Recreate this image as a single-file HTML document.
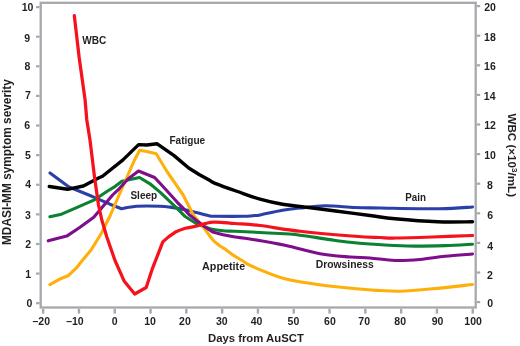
<!DOCTYPE html>
<html><head><meta charset="utf-8"><style>
html,body{margin:0;padding:0;background:#fff;}
svg{display:block;will-change:transform;}
text{font-family:"Liberation Sans",sans-serif;font-weight:bold;fill:#231f20;}
</style></head><body>
<svg width="520" height="346" viewBox="0 0 520 346">
<rect x="0" y="0" width="520" height="346" fill="#fff"/>

<rect x="40.7" y="2.8" width="435.0" height="304.7" fill="none" stroke="#a5a8ad" stroke-width="2.3"/>
<line x1="36" y1="303.20" x2="39.6" y2="303.20" stroke="#a5a8ad" stroke-width="2.2"/>
<text x="29.47" y="307.33" font-size="10.5" text-anchor="middle">0</text>
<line x1="36" y1="273.59" x2="39.6" y2="273.59" stroke="#a5a8ad" stroke-width="2.2"/>
<text x="28.20" y="277.81" font-size="10.5" text-anchor="middle">1</text>
<line x1="36" y1="243.98" x2="39.6" y2="243.98" stroke="#a5a8ad" stroke-width="2.2"/>
<text x="28.08" y="247.96" font-size="10.5" text-anchor="middle">2</text>
<line x1="36" y1="214.37" x2="39.6" y2="214.37" stroke="#a5a8ad" stroke-width="2.2"/>
<text x="28.03" y="219.02" font-size="10.5" text-anchor="middle">3</text>
<line x1="36" y1="184.76" x2="39.6" y2="184.76" stroke="#a5a8ad" stroke-width="2.2"/>
<text x="28.06" y="188.19" font-size="10.5" text-anchor="middle">4</text>
<line x1="36" y1="155.15" x2="39.6" y2="155.15" stroke="#a5a8ad" stroke-width="2.2"/>
<text x="27.89" y="158.55" font-size="10.5" text-anchor="middle">5</text>
<line x1="36" y1="125.54" x2="39.6" y2="125.54" stroke="#a5a8ad" stroke-width="2.2"/>
<text x="27.12" y="128.82" font-size="10.5" text-anchor="middle">6</text>
<line x1="36" y1="95.93" x2="39.6" y2="95.93" stroke="#a5a8ad" stroke-width="2.2"/>
<text x="27.87" y="99.18" font-size="10.5" text-anchor="middle">7</text>
<line x1="36" y1="66.32" x2="39.6" y2="66.32" stroke="#a5a8ad" stroke-width="2.2"/>
<text x="27.33" y="70.23" font-size="10.5" text-anchor="middle">8</text>
<line x1="36" y1="36.71" x2="39.6" y2="36.71" stroke="#a5a8ad" stroke-width="2.2"/>
<text x="27.14" y="41.54" font-size="10.5" text-anchor="middle">9</text>
<line x1="36" y1="7.10" x2="39.6" y2="7.10" stroke="#a5a8ad" stroke-width="2.2"/>
<text x="27.49" y="10.69" font-size="10.5" text-anchor="middle">10</text>
<line x1="476.8" y1="302.10" x2="480.2" y2="302.10" stroke="#a5a8ad" stroke-width="2.2"/>
<text x="490.21" y="307.07" font-size="10.5" text-anchor="middle">0</text>
<line x1="476.8" y1="272.50" x2="480.2" y2="272.50" stroke="#a5a8ad" stroke-width="2.2"/>
<text x="490.03" y="278.59" font-size="10.5" text-anchor="middle">2</text>
<line x1="476.8" y1="242.90" x2="480.2" y2="242.90" stroke="#a5a8ad" stroke-width="2.2"/>
<text x="490.08" y="250.18" font-size="10.5" text-anchor="middle">4</text>
<line x1="476.8" y1="213.30" x2="480.2" y2="213.30" stroke="#a5a8ad" stroke-width="2.2"/>
<text x="490.17" y="219.46" font-size="10.5" text-anchor="middle">6</text>
<line x1="476.8" y1="183.70" x2="480.2" y2="183.70" stroke="#a5a8ad" stroke-width="2.2"/>
<text x="490.00" y="188.79" font-size="10.5" text-anchor="middle">8</text>
<line x1="476.8" y1="154.10" x2="480.2" y2="154.10" stroke="#a5a8ad" stroke-width="2.2"/>
<text x="489.98" y="159.25" font-size="10.5" text-anchor="middle">10</text>
<line x1="476.8" y1="124.50" x2="480.2" y2="124.50" stroke="#a5a8ad" stroke-width="2.2"/>
<text x="489.99" y="129.46" font-size="10.5" text-anchor="middle">12</text>
<line x1="476.8" y1="94.90" x2="480.2" y2="94.90" stroke="#a5a8ad" stroke-width="2.2"/>
<text x="489.71" y="99.75" font-size="10.5" text-anchor="middle">14</text>
<line x1="476.8" y1="65.30" x2="480.2" y2="65.30" stroke="#a5a8ad" stroke-width="2.2"/>
<text x="489.96" y="69.87" font-size="10.5" text-anchor="middle">16</text>
<line x1="476.8" y1="35.70" x2="480.2" y2="35.70" stroke="#a5a8ad" stroke-width="2.2"/>
<text x="489.93" y="40.75" font-size="10.5" text-anchor="middle">18</text>
<line x1="476.8" y1="6.10" x2="480.2" y2="6.10" stroke="#a5a8ad" stroke-width="2.2"/>
<text x="490.08" y="11.28" font-size="10.5" text-anchor="middle">20</text>
<line x1="43.15" y1="308.8" x2="43.15" y2="313.6" stroke="#a5a8ad" stroke-width="2.4"/>
<text x="41.27" y="324.83" font-size="10.5" text-anchor="middle">–20</text>
<line x1="78.95" y1="308.8" x2="78.95" y2="313.6" stroke="#a5a8ad" stroke-width="2.4"/>
<text x="74.96" y="324.82" font-size="10.5" text-anchor="middle">–10</text>
<line x1="114.75" y1="308.8" x2="114.75" y2="313.6" stroke="#a5a8ad" stroke-width="2.4"/>
<text x="114.65" y="324.89" font-size="10.5" text-anchor="middle">0</text>
<line x1="150.55" y1="308.8" x2="150.55" y2="313.6" stroke="#a5a8ad" stroke-width="2.4"/>
<text x="150.11" y="324.87" font-size="10.5" text-anchor="middle">10</text>
<line x1="186.35" y1="308.8" x2="186.35" y2="313.6" stroke="#a5a8ad" stroke-width="2.4"/>
<text x="184.96" y="324.83" font-size="10.5" text-anchor="middle">20</text>
<line x1="222.15" y1="308.8" x2="222.15" y2="313.6" stroke="#a5a8ad" stroke-width="2.4"/>
<text x="221.76" y="324.85" font-size="10.5" text-anchor="middle">30</text>
<line x1="257.95" y1="308.8" x2="257.95" y2="313.6" stroke="#a5a8ad" stroke-width="2.4"/>
<text x="256.56" y="324.95" font-size="10.5" text-anchor="middle">40</text>
<line x1="293.75" y1="308.8" x2="293.75" y2="313.6" stroke="#a5a8ad" stroke-width="2.4"/>
<text x="293.40" y="324.95" font-size="10.5" text-anchor="middle">50</text>
<line x1="329.55" y1="308.8" x2="329.55" y2="313.6" stroke="#a5a8ad" stroke-width="2.4"/>
<text x="329.92" y="324.88" font-size="10.5" text-anchor="middle">60</text>
<line x1="365.35" y1="308.8" x2="365.35" y2="313.6" stroke="#a5a8ad" stroke-width="2.4"/>
<text x="364.18" y="324.94" font-size="10.5" text-anchor="middle">70</text>
<line x1="401.15" y1="308.8" x2="401.15" y2="313.6" stroke="#a5a8ad" stroke-width="2.4"/>
<text x="400.21" y="324.84" font-size="10.5" text-anchor="middle">80</text>
<line x1="436.95" y1="308.8" x2="436.95" y2="313.6" stroke="#a5a8ad" stroke-width="2.4"/>
<text x="437.48" y="324.91" font-size="10.5" text-anchor="middle">90</text>
<line x1="472.75" y1="308.8" x2="472.75" y2="313.6" stroke="#a5a8ad" stroke-width="2.4"/>
<text x="473.13" y="324.90" font-size="10.5" text-anchor="middle">100</text>
<text x="208" y="341.5" font-size="11" textLength="95.8" lengthAdjust="spacingAndGlyphs">Days from AuSCT</text>
<text transform="translate(10.8,245) rotate(-90)" x="0" y="0" font-size="11.9" textLength="165.9" lengthAdjust="spacingAndGlyphs">MDASI-MM symptom severity</text>
<text transform="translate(508.4,113.4) rotate(90)" x="0" y="0" font-size="11.7" textLength="83.7" lengthAdjust="spacingAndGlyphs">WBC (×10<tspan font-size="8" dy="-4">3</tspan><tspan dy="4">/mL)</tspan></text>
<path d="M50.00,173.00 L69.00,187.00 L90.00,195.50 L94.90,197.60 L110.00,204.20 L121.50,208.80 L127.30,207.50 L136.50,206.20 C141.88,205.98 154.02,206.05 159.60,206.20 C165.18,206.35 165.82,206.52 170.00,207.10 C174.18,207.68 180.33,208.82 184.70,209.70 C189.07,210.58 191.98,211.37 196.20,212.40 C200.42,213.43 206.87,215.26 210.00,215.90 C213.13,216.54 209.58,216.18 215.00,216.25 C220.42,216.32 235.83,216.43 242.50,216.30 C249.17,216.18 252.08,215.73 255.00,215.50 C257.92,215.27 255.42,215.78 260.00,214.90 C264.58,214.02 275.83,211.35 282.50,210.20 C289.17,209.05 292.92,208.73 300.00,208.00 C307.08,207.27 315.83,205.88 325.00,205.80 C334.17,205.72 345.83,207.13 355.00,207.50 C364.17,207.87 365.83,207.79 380.00,208.00 C394.17,208.21 424.58,208.92 440.00,208.75 C455.42,208.58 467.08,207.29 472.50,207.00" fill="none" stroke="#2a40a8" stroke-width="3.1" stroke-linejoin="round" stroke-linecap="round"/>
<path d="M49.90,216.70 L61.50,214.20 L72.00,209.60 L93.75,200.20 L108.00,190.80 L114.90,186.60 L121.90,181.20 L139.50,177.50 L150.00,183.80 L160.00,192.10 L168.70,200.40 L177.30,208.60 L184.70,216.20 L196.20,223.50 L209.20,228.50 C213.68,229.72 218.80,230.34 223.10,230.80 C227.40,231.26 228.85,230.97 235.00,231.25 C241.15,231.53 251.67,232.07 260.00,232.50 C268.33,232.93 278.83,233.43 285.00,233.80 C291.17,234.17 289.50,233.73 297.00,234.70 C304.50,235.67 321.17,238.33 330.00,239.60 C338.83,240.87 343.33,241.57 350.00,242.30 C356.67,243.03 360.42,243.38 370.00,244.00 C379.58,244.62 395.00,245.73 407.50,246.00 C420.00,246.27 434.17,245.89 445.00,245.60 C455.83,245.31 467.92,244.47 472.50,244.25" fill="none" stroke="#0a8232" stroke-width="3.1" stroke-linejoin="round" stroke-linecap="round"/>
<path d="M49.90,284.60 L60.50,278.70 L68.00,275.80 L76.70,267.70 L80.00,263.30 L91.25,249.75 L101.25,233.50 L110.00,216.00 L119.10,195.00 L134.50,160.00 L139.70,150.20 L146.70,151.50 L156.20,153.80 L167.30,172.00 L175.00,183.10 L183.20,195.00 L193.30,215.00 L198.00,220.80 L203.50,227.30 L209.20,235.20 L213.90,241.10 L220.00,246.00 L224.30,248.60 L233.50,255.40 L242.80,261.00 C245.88,262.82 244.97,263.34 252.00,266.30 C259.03,269.26 272.83,275.55 285.00,278.75 C297.17,281.95 311.67,283.71 325.00,285.50 C338.33,287.29 355.83,288.67 365.00,289.50 C374.17,290.33 374.17,290.21 380.00,290.50 C385.83,290.79 391.25,291.54 400.00,291.25 C408.75,290.96 420.42,289.88 432.50,288.75 C444.58,287.62 465.83,285.21 472.50,284.50" fill="none" stroke="#ffaf0a" stroke-width="3.1" stroke-linejoin="round" stroke-linecap="round"/>
<path d="M48.30,240.80 L66.75,236.10 L80.00,227.25 L93.75,217.25 L112.60,195.00 L119.60,188.30 L128.00,179.00 L138.50,171.00 L154.60,177.50 L160.00,183.30 L168.70,192.80 L177.30,202.30 L184.30,209.30 L188.70,214.20 L196.20,220.20 L204.60,226.70 L212.70,231.90 L223.10,234.80 C226.82,235.65 230.52,236.30 235.00,237.00 C239.48,237.70 241.67,237.62 250.00,239.00 C258.33,240.38 273.33,242.79 285.00,245.25 C296.67,247.71 309.17,251.79 320.00,253.75 C330.83,255.71 341.67,256.29 350.00,257.00 C358.33,257.71 362.50,257.42 370.00,258.00 C377.50,258.58 386.67,260.25 395.00,260.50 C403.33,260.75 411.67,260.21 420.00,259.50 C428.33,258.79 436.25,257.17 445.00,256.25 C453.75,255.33 467.92,254.38 472.50,254.00" fill="none" stroke="#7d0f8c" stroke-width="3.1" stroke-linejoin="round" stroke-linecap="round"/>
<path d="M49.30,186.50 L67.50,189.30 L83.40,186.00 L86.25,184.50 L98.50,178.00 L102.50,176.25 L122.70,160.10 L138.60,144.60 L146.70,145.00 L157.20,143.80 L174.10,155.60 L180.00,160.60 L188.70,168.00 L199.10,174.50 L210.00,180.60 C212.65,182.07 210.42,181.48 215.00,183.30 C219.58,185.12 230.00,188.85 237.50,191.50 C245.00,194.15 252.50,197.07 260.00,199.20 C267.50,201.33 273.75,202.83 282.50,204.30 C291.25,205.77 303.33,206.84 312.50,208.00 C321.67,209.16 327.92,210.00 337.50,211.25 C347.08,212.50 360.42,214.25 370.00,215.50 C379.58,216.75 383.75,217.71 395.00,218.75 C406.25,219.79 424.58,221.25 437.50,221.75 C450.42,222.25 466.67,221.75 472.50,221.75" fill="none" stroke="#000000" stroke-width="3.4" stroke-linejoin="round" stroke-linecap="round"/>
<path d="M74.30,15.60 L79.20,57.80 L85.10,100.00 L86.80,120.00 L90.00,140.00 L94.60,177.80 L98.50,205.00 L101.80,220.00 L106.90,237.30 L115.00,260.50 L124.30,281.30 L134.70,294.00 L146.20,287.50 L152.00,269.70 L162.80,241.90 L168.50,236.90 L175.00,232.30 C177.82,230.87 182.07,229.28 185.40,228.30 C188.73,227.32 190.40,227.43 195.00,226.40 C199.60,225.37 206.33,222.58 213.00,222.10 C219.67,221.62 227.17,222.93 235.00,223.50 C242.83,224.07 249.17,224.21 260.00,225.50 C270.83,226.79 284.17,229.46 300.00,231.25 C315.83,233.04 341.67,235.21 355.00,236.25 C368.33,237.29 373.33,237.21 380.00,237.50 C386.67,237.79 386.25,238.08 395.00,238.00 C403.75,237.92 419.58,237.42 432.50,237.00 C445.42,236.58 465.83,235.75 472.50,235.50" fill="none" stroke="#f5121c" stroke-width="3.25" stroke-linejoin="round" stroke-linecap="round"/>
<text x="82.20" y="43.90" font-size="10.2" textLength="24.10" lengthAdjust="spacingAndGlyphs">WBC</text>
<text x="169.40" y="144.20" font-size="10.2" textLength="35.80" lengthAdjust="spacingAndGlyphs">Fatigue</text>
<text x="130.40" y="198.80" font-size="10.2" textLength="26.80" lengthAdjust="spacingAndGlyphs">Sleep</text>
<text x="405.30" y="201.00" font-size="10.2" textLength="20.70" lengthAdjust="spacingAndGlyphs">Pain</text>
<text x="202.05" y="269.50" font-size="10.2" textLength="43.10" lengthAdjust="spacingAndGlyphs">Appetite</text>
<text x="315.70" y="268.00" font-size="10.2" textLength="58.00" lengthAdjust="spacingAndGlyphs">Drowsiness</text>
</svg></body></html>
